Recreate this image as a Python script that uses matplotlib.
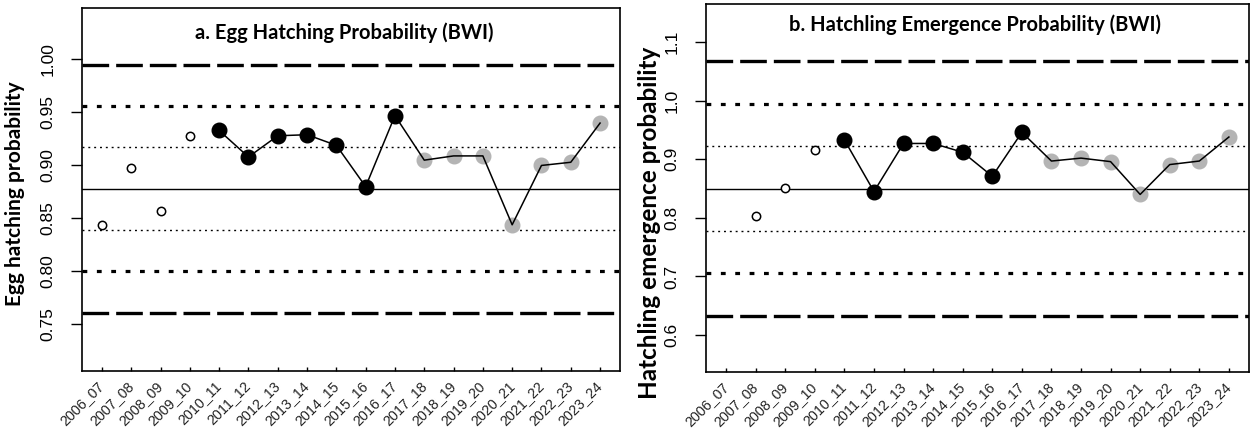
import matplotlib
matplotlib.use("Agg")
import matplotlib.pyplot as plt
import numpy as np

seasons = ["2006_07", "2007_08", "2008_09", "2009_10", "2010_11", "2011_12",
           "2012_13", "2013_14", "2014_15", "2015_16", "2016_17", "2017_18",
           "2018_19", "2019_20", "2020_21", "2021_22", "2022_23", "2023_24"]

# panel a: egg hatching probability
hatch_early = [0.844, 0.898, 0.857, 0.928]          # 2006_07 - 2009_10 (open)
hatch_base = [0.933, 0.908, 0.928, 0.929, 0.919, 0.880, 0.947]  # 2010_11 - 2016_17
hatch_recent = [0.905, 0.909, 0.909, 0.844, 0.900, 0.903, 0.940]  # 2017_18 - 2023_24
hatch_mean, hatch_sd = 0.878, 0.039

# panel b: hatchling emergence probability (no 2006_07 value)
emerg_early = [np.nan, 0.804, 0.851, 0.915]
emerg_base = [0.933, 0.845, 0.927, 0.927, 0.912, 0.871, 0.946]
emerg_recent = [0.897, 0.902, 0.896, 0.840, 0.891, 0.897, 0.938]
emerg_mean, emerg_sd = 0.850, 0.0724

titles = ["a. Egg Hatching Probability (BWI)",
          "b. Hatchling Emergence Probability (BWI)"]
ylabels = ["Egg hatching probability", "Hatchling emergence probability"]

plt.rcParams['font.family'] = ['Liberation Sans', 'DejaVu Sans']

fig = plt.figure(figsize=(12.51, 4.28), dpi=100)
ax1 = fig.add_axes([82/1251, 1-371/428, 538/1251, 363/428])
ax2 = fig.add_axes([706/1251, 1-372/428, 543/1251, 368/428])

x = np.arange(1, len(seasons) + 1)
grey = '#b4b4b4'


def draw(ax, early, base, recent, mean, sd, ylim, yticks, fmt, title, ylabel,
         title_pos, ylab_pos, ylab_size):
    # control lines: mean, +-1, 2, 3 sd
    ax.axhline(mean, color='black', lw=1.0, zorder=1)
    for s in (1, -1):
        ax.axhline(mean + s*sd, color='black', lw=1.0, ls=(0, (1.4, 2.8)), zorder=1)
        ax.axhline(mean + s*2*sd, color='black', lw=2.3, ls=(0, (1.5, 3.0)), zorder=1)
        ax.axhline(mean + s*3*sd, color='black', lw=2.4, ls=(0, (8.0, 2.1)), zorder=1)

    ax.plot(x[:4], early, 'o', ms=6, mfc='white', mec='black', mew=1.1, zorder=3)
    ax.plot(x[4:11], base, 'o', ms=10.5, color='black', zorder=3)
    ax.plot(x[11:], recent, 'o', ms=10.5, color=grey, zorder=3)
    ax.plot(x[4:], list(base) + list(recent), color='black', lw=1.1, zorder=4)

    ax.set_xlim(1 - 0.68, len(seasons) + 0.68)
    ax.set_ylim(*ylim)
    ax.set_yticks(yticks)
    ax.set_yticklabels([fmt % v for v in yticks], rotation=90, va='center',
                       fontsize=12.5)
    ax.set_xticks(x)
    ax.set_xticklabels(seasons, rotation=45, ha='right', va='center',
                       rotation_mode='anchor', fontsize=10.3, color='#222222')
    ax.tick_params(axis='y', direction='out', length=8, width=1.0, pad=11)
    ax.tick_params(axis='x', direction='in', length=3, width=1.0, pad=9)
    for sp in ax.spines.values():
        sp.set_linewidth(1.2)

    ax.text(title_pos[0], title_pos[1], title, transform=ax.transAxes,
            ha='center', va='center', fontsize=14.5, fontweight='bold',
            family=['Lato', 'DejaVu Sans'])
    ax.set_ylabel(ylabel, fontsize=ylab_size, fontweight='bold',
                  family=['Lato', 'DejaVu Sans'])
    ax.yaxis.set_label_coords(*ylab_pos)


draw(ax1, hatch_early, hatch_base, hatch_recent, hatch_mean, hatch_sd,
     (0.706, 1.0486), [0.75, 0.80, 0.85, 0.90, 0.95, 1.00], '%.2f',
     titles[0], ylabels[0], (0.487, 0.931), ((25 - 82)/538, 0.489), 15)
draw(ax2, emerg_early, emerg_base, emerg_recent, emerg_mean, emerg_sd,
     (0.537, 1.165), [0.6, 0.7, 0.8, 0.9, 1.0, 1.1], '%.1f',
     titles[1], ylabels[1], (0.495, 0.943), ((661 - 706)/543, 0.405), 17.5)

fig.savefig('out.png', dpi=100)
